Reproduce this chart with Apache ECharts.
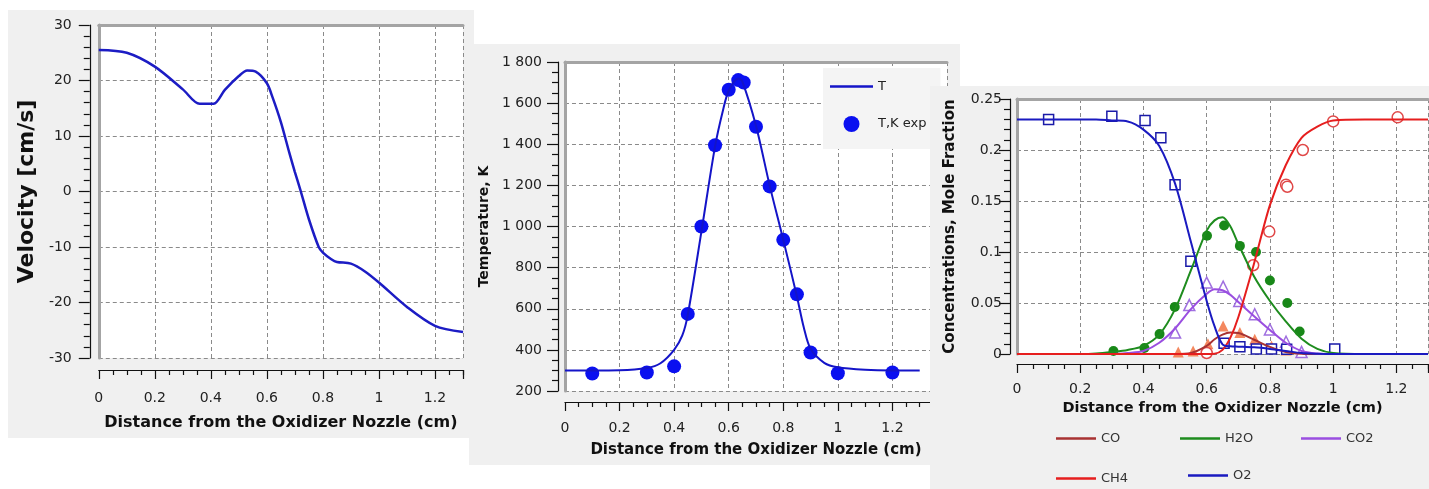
<!DOCTYPE html>
<html>
<head>
<meta charset="utf-8">
<title>Counterflow flame profiles</title>
<script src="https://cdn.jsdelivr.net/npm/echarts@6/dist/echarts.min.js"></script>
<style>
  body { margin: 0; background: #fff; width: 1429px; height: 489px; position: relative; overflow: hidden; }
  .panel { position: absolute; background: #f0f0f0; }
  #velocity { left: 8px; top: 10px; width: 466px; height: 428px; }
  #temperature { left: 469px; top: 44px; width: 491px; height: 421px; }
  #species { left: 930px; top: 86px; width: 499px; height: 403px; }
</style>
</head>
<body>
<div id="velocity" class="panel"></div>
<div id="temperature" class="panel"></div>
<div id="species" class="panel"></div>

<script>
// velocity profile
const velX = [0, 0.1, 0.2, 0.3, 0.36, 0.41, 0.45, 0.5, 0.53, 0.56, 0.6, 0.62, 0.65, 0.68, 0.7, 0.72, 0.75, 0.785, 0.8, 0.83, 0.85, 0.9, 0.95, 1.0, 1.1, 1.2, 1.3]
const velV = [25.5, 25.0, 22.5, 18.4, 15.8, 15.8, 18.3, 20.8, 21.8, 21.6, 19.5, 17.0, 12.5, 7.0, 3.5, 0.2, -5, -10, -11, -12.2, -12.7, -13, -14.4, -16.4, -20.8, -24.2, -25.3]

// temperature: model curve + experiment
const tempX = [0, 0.1, 0.2, 0.3, 0.35, 0.4, 0.43, 0.45, 0.5, 0.55, 0.58, 0.6, 0.635, 0.65, 0.7, 0.75, 0.8, 0.85, 0.875, 0.9, 0.95, 1.0, 1.1, 1.2, 1.3]
const tempV = [300, 300, 301, 312, 335, 400, 470, 570, 975, 1390, 1570, 1660, 1720, 1705, 1490, 1200, 935, 660, 510, 405, 337, 315, 303, 300, 300]
const tExpX = [0.1, 0.3, 0.4, 0.45, 0.5, 0.55, 0.6, 0.635, 0.655, 0.7, 0.75, 0.8, 0.85, 0.9, 1.0, 1.2]
const tExpV = [285, 290, 320, 575, 1000, 1395, 1665, 1712, 1700, 1485, 1195, 935, 670, 387, 286, 290]

// species mole fractions: model curves on a shared x grid
const fitX = [0, 0.1, 0.2, 0.25, 0.3, 0.35, 0.4, 0.45, 0.5, 0.55, 0.6, 0.625, 0.65, 0.675, 0.7, 0.75, 0.8, 0.85, 0.9, 0.95, 1.0, 1.1, 1.2, 1.3]
const coFit = [0, 0, 0, 0, 0, 0, 0, 0, 0, 0.001, 0.008, 0.0145, 0.019, 0.021, 0.0205, 0.014, 0.007, 0.002, 0.0003, 0, 0, 0, 0, 0]
const h2oFit = [0, 0, 0, 0.0005, 0.002, 0.004, 0.008, 0.019, 0.044, 0.082, 0.121, 0.131, 0.134, 0.125, 0.108, 0.076, 0.052, 0.032, 0.015, 0.005, 0.001, 0, 0, 0]
const co2Fit = [0, 0, 0, 0, 0, 0.001, 0.003, 0.011, 0.025, 0.044, 0.059, 0.0635, 0.0625, 0.058, 0.051, 0.037, 0.0235, 0.011, 0.003, 0.0005, 0, 0, 0, 0]
const ch4Fit = [0, 0, 0, 0, 0, 0, 0, 0, 0, 0, 0, 0.0003, 0.004, 0.016, 0.036, 0.089, 0.146, 0.185, 0.212, 0.223, 0.229, 0.23, 0.23, 0.23]
const o2Fit = [0.23, 0.23, 0.23, 0.23, 0.229, 0.228, 0.22, 0.204, 0.167, 0.11, 0.052, 0.027, 0.0095, 0.0075, 0.0072, 0.0065, 0.005, 0.003, 0.001, 0.0003, 0, 0, 0, 0]

// species: experimental points
const coExpX = [0.51, 0.557, 0.604, 0.652, 0.705, 0.752, 0.805, 0.851]
const coExpV = [0.002, 0.003, 0.01, 0.0275, 0.021, 0.0144, 0.0078, 0.004]
const h2oExpX = [0.305, 0.403, 0.451, 0.499, 0.601, 0.655, 0.705, 0.756, 0.8, 0.855, 0.894]
const h2oExpV = [0.003, 0.0058, 0.0195, 0.046, 0.116, 0.126, 0.106, 0.1, 0.072, 0.05, 0.022]
const co2ExpX = [0.5, 0.545, 0.6, 0.652, 0.703, 0.752, 0.8, 0.851, 0.9]
const co2ExpV = [0.021, 0.048, 0.07, 0.066, 0.052, 0.039, 0.024, 0.012, 0.002]
const ch4ExpX = [0.6, 0.747, 0.798, 0.851, 0.855, 0.904, 1.0, 1.204]
const ch4ExpV = [0.001, 0.087, 0.12, 0.166, 0.164, 0.2, 0.228, 0.232]
const o2ExpX = [0.1, 0.3, 0.405, 0.455, 0.5, 0.55, 0.655, 0.705, 0.757, 0.805, 0.853, 1.005]
const o2ExpV = [0.23, 0.233, 0.229, 0.212, 0.166, 0.091, 0.0105, 0.007, 0.005, 0.005, 0.0046, 0.005]

const FONT = 'DejaVu Sans'
const X_TITLE = 'Distance from the Oxidizer Nozzle (cm)'
const LINE_ICON = 'path://M0,0H40V2.5H0Z'
const pairs = (xs, ys) => xs.map((x, i) => [x, ys[i]])

const gridLine = { show: true, lineStyle: { color: '#8a8a8a', type: [4, 3], width: 1 } }
const ink = { color: '#111', width: 1.2 }

// bottom axis, drawn a few px below the plot like the original
const distAxis = (max, offset, margin, nameGap, nameSize) => ({
  type: 'value', min: 0, max, interval: 0.2, offset,
  name: X_TITLE, nameLocation: 'middle', nameGap,
  nameTextStyle: { fontFamily: FONT, fontWeight: 'bold', fontSize: nameSize, color: '#111' },
  axisLine: { show: true, onZero: false, lineStyle: ink },
  axisTick: { show: true, length: 9, lineStyle: ink },
  minorTick: { show: true, splitNumber: 4, length: 5, lineStyle: ink },
  axisLabel: { margin, showMaxLabel: false, fontFamily: FONT, fontSize: 14, color: '#222' },
  splitLine: gridLine
})

const valAxis = (o) => ({
  type: 'value', min: o.min, max: o.max, interval: o.interval, offset: o.offset,
  name: o.name, nameLocation: 'middle', nameRotate: 90, nameGap: o.nameGap,
  nameTextStyle: { fontFamily: FONT, fontWeight: 'bold', fontSize: o.nameSize, color: '#111' },
  axisLine: { show: true, onZero: false, lineStyle: ink },
  axisTick: { show: true, length: 11, lineStyle: ink },
  minorTick: { show: true, splitNumber: o.minor, length: 6, lineStyle: ink },
  axisLabel: { margin: o.margin, fontFamily: FONT, fontSize: 14, color: '#222', formatter: o.fmt },
  splitLine: gridLine
})

// grey frame on top / left edge of the plot area
const frameX = (max) => ({
  type: 'value', min: 0, max, position: 'top',
  axisLine: { show: true, onZero: false, lineStyle: { color: '#a4a4a4', width: 3 } },
  axisTick: { show: false }, axisLabel: { show: false }, splitLine: { show: false }
})
const frameY = (min, max) => ({
  type: 'value', min, max, position: 'left', offset: 0,
  axisLine: { show: true, onZero: false, lineStyle: { color: '#a4a4a4', width: 3 } },
  axisTick: { show: false }, axisLabel: { show: false }, splitLine: { show: false }
})

const fitLine = (name, xs, ys, color, width) => ({
  name, type: 'line', data: pairs(xs, ys), symbol: 'none', smooth: 0.3,
  lineStyle: { color, width: width || 2 }, itemStyle: { color }
})
const expPoints = (name, xs, ys, symbol, size, fill, border) => ({
  name, type: 'scatter', data: pairs(xs, ys), symbol, symbolSize: size,
  itemStyle: { color: fill, borderColor: border || fill, borderWidth: border ? 1.5 : 0, opacity: 1 }
})

// thousands with a space: 1 800
const spaced = (v) => (v >= 1000 ? String(v).replace(/(\d)(\d{3})$/, '$1 $2') : String(v))

// --- velocity ---
const velChart = echarts.init(document.getElementById('velocity'))
velChart.setOption({
  animation: false,
  grid: { left: 87, top: 15, right: 11, bottom: 80, show: true, backgroundColor: '#fff', borderWidth: 0 },
  xAxis: [distAxis(1.3, 12, 21, 45, 16), frameX(1.3)],
  yAxis: [
    valAxis({ min: -30, max: 30, interval: 10, minor: 5, offset: 9, margin: 18, name: 'Velocity [cm/s]', nameGap: 44, nameSize: 22 }),
    frameY(-30, 30)
  ],
  series: [fitLine('Velocity', velX, velV, '#1c1cc4', 2.5)]
})

// --- temperature ---
const tempChart = echarts.init(document.getElementById('temperature'))
tempChart.setOption({
  animation: false,
  grid: { left: 94, top: 18, right: 13, bottom: 74, show: true, backgroundColor: '#fff', borderWidth: 0 },
  xAxis: [distAxis(1.4, 11, 19, 41, 15), frameX(1.4)],
  yAxis: [
    valAxis({ min: 200, max: 1800, interval: 200, minor: 4, offset: 7, margin: 16, name: 'Temperature, K', nameGap: 66, nameSize: 14, fmt: spaced }),
    frameY(200, 1800)
  ],
  legend: {
    orient: 'vertical', left: 354, top: 24,
    padding: [12, 14, 17, 7], itemGap: 23, itemWidth: 43, itemHeight: 16,
    backgroundColor: '#f4f4f4',
    textStyle: { fontFamily: FONT, fontSize: 13, color: '#222' },
    data: [{ name: 'T', icon: LINE_ICON }, { name: 'T,K exp', icon: 'circle' }]
  },
  series: [
    fitLine('T', tempX, tempV, '#1414c8', 2),
    expPoints('T,K exp', tExpX, tExpV, 'circle', 14, '#0a10f0')
  ]
})

// --- species ---
const legendAt = (name, left, top) => ({
  data: [{ name, icon: LINE_ICON }], left, top, padding: 0, itemWidth: 40, itemHeight: 10,
  textStyle: { fontFamily: FONT, fontSize: 13, color: '#333' }
})

const specChart = echarts.init(document.getElementById('species'))
specChart.setOption({
  animation: false,
  grid: { left: 87, top: 13, right: 1, bottom: 135, show: true, backgroundColor: '#fff', borderWidth: 0 },
  xAxis: [distAxis(1.3, 10, 18, 36, 14.5), frameX(1.3)],
  yAxis: [
    valAxis({ min: 0, max: 0.25, interval: 0.05, minor: 5, offset: 7, margin: 8, name: 'Concentrations, Mole Fraction', nameGap: 52, nameSize: 15 }),
    frameY(0, 0.25)
  ],
  legend: [
    legendAt('CO', 126, 346),
    legendAt('H2O', 250, 346),
    legendAt('CO2', 371, 346),
    legendAt('CH4', 126, 386),
    legendAt('O2', 258, 383)
  ],
  series: [
    fitLine('CO', fitX, coFit, '#a83232'),
    fitLine('H2O', fitX, h2oFit, '#1e8c1e'),
    fitLine('CO2', fitX, co2Fit, '#9a4ee0'),
    fitLine('CH4', fitX, ch4Fit, '#e61e1e'),
    fitLine('O2', fitX, o2Fit, '#1a1ac0'),
    expPoints('CO exp', coExpX, coExpV, 'triangle', 11, '#f4885f'),
    expPoints('H2O exp', h2oExpX, h2oExpV, 'circle', 10, '#188818'),
    expPoints('CO2 exp', co2ExpX, co2ExpV, 'triangle', 11, '#fff', '#a070e0'),
    expPoints('CH4 exp', ch4ExpX, ch4ExpV, 'circle', 11, '#fff', '#e04848'),
    expPoints('O2 exp', o2ExpX, o2ExpV, 'rect', 10, '#fff', '#1a1aa8')
  ]
})
</script>
</body>
</html>
